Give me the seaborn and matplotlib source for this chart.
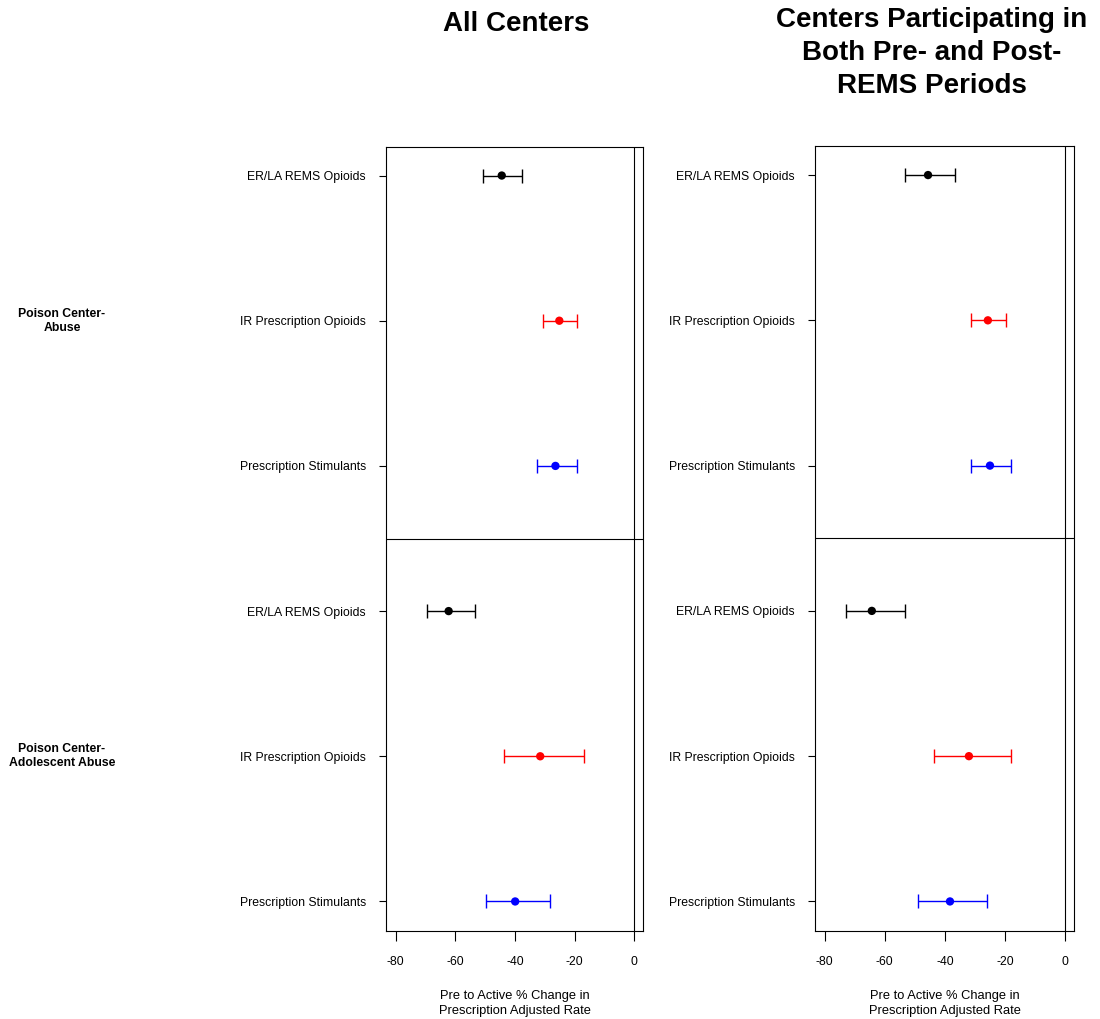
import numpy as np
import pandas as pd
import matplotlib
matplotlib.use("Agg")
import matplotlib.pyplot as plt
import matplotlib.transforms as mtransforms
import seaborn as sns

# Categories
measures = ["ER/LA REMS Opioids", "IR Prescription Opioids", "Prescription Stimulants"]
groups = ["Poison Center-\nAbuse", "Poison Center-\nAdolescent Abuse"]
panel_titles = ["All Centers", "Centers Participating in\nBoth Pre- and Post-\nREMS Periods"]

# Pre to active % change (estimate, lower CI, upper CI); rows: group x measure
all_est = [-44.4, -25.1, -26.4, -62.2, -31.5, -39.9]
all_lo = [-50.6, -30.5, -32.5, -69.6, -43.8, -49.6]
all_hi = [-37.7, -19.1, -19.3, -53.2, -16.8, -28.2]

both_est = [-45.6, -25.7, -25.0, -64.3, -32.0, -38.3]
both_lo = [-53.2, -31.3, -31.3, -72.8, -43.7, -48.9]
both_hi = [-36.5, -19.7, -17.9, -53.1, -17.9, -25.9]

x_ticks = [-80, -60, -40, -20, 0]
measure_colors = {"ER/LA REMS Opioids": "#000000",
                  "IR Prescription Opioids": "#FF0000",
                  "Prescription Stimulants": "#0000FF"}


def build_frame(est, lo, hi):
    rows = []
    for gi, g in enumerate(groups):
        for mi, m in enumerate(measures):
            k = gi * len(measures) + mi
            rows.append({"group": g, "measure": m, "row": k,
                         "est": est[k], "lo": lo[k], "hi": hi[k]})
    return pd.DataFrame(rows)


frames = [build_frame(all_est, all_lo, all_hi),
          build_frame(both_est, both_lo, both_hi)]

sns.set_theme(style="white")
plt.rcParams["font.family"] = ["Liberation Sans", "DejaVu Sans"]
plt.rcParams["text.color"] = "black"
plt.rcParams["axes.labelcolor"] = "black"
plt.rcParams["axes.edgecolor"] = "black"
plt.rcParams["axes.linewidth"] = 0.8

W, H = 1100, 1019
fig = plt.figure(figsize=(W / 100, H / 100), dpi=100)

axes_px = [(386, 146.5, 643, 930.5), (815, 146.0, 1074, 930.5)]
title_pos = [(516, 24), (932, 53)]

for p, (df, (x0, y0, x1, y1)) in enumerate(zip(frames, axes_px)):
    ax = fig.add_axes([x0 / W, 1 - y1 / H, (x1 - x0) / W, (y1 - y0) / H])

    for _, r in df.iterrows():
        c = measure_colors[r["measure"]]
        ax.errorbar(r["est"], r["row"],
                    xerr=[[r["est"] - r["lo"]], [r["hi"] - r["est"]]],
                    fmt="none", ecolor=c, elinewidth=1.0, capsize=4.8,
                    capthick=1.0, zorder=2)
    sns.scatterplot(data=df, x="est", y="row", hue="measure",
                    palette=measure_colors, s=36, edgecolor="none",
                    legend=False, ax=ax, zorder=3)

    # reference line at zero and divider between the two outcome groups
    ax.axvline(0, color="black", lw=0.8, zorder=1)
    ax.axhline(len(measures) - 0.5, color="black", lw=0.8, zorder=1)

    ax.set_xlim(-83.2, 2.95)
    ax.set_ylim(len(df) - 1 + 0.2, -0.2)
    ax.set_xticks(x_ticks)
    ax.set_xticklabels([str(t) for t in x_ticks])
    ax.set_yticks(df["row"].tolist())
    ax.set_yticklabels(df["measure"].tolist())
    ax.tick_params(axis="x", bottom=True, direction="out", length=7.2,
                   width=0.8, color="black", pad=11, labelsize=8.7,
                   labelcolor="black")
    ax.tick_params(axis="y", left=True, direction="out", length=5,
                   width=0.8, color="black", pad=9.5, labelsize=8.8,
                   labelcolor="black")
    ax.set_xlabel("Pre to Active % Change in\nPrescription Adjusted Rate",
                  fontsize=9.3, color="black", labelpad=16, linespacing=1.3)
    ax.set_ylabel("")
    for s in ax.spines.values():
        s.set_visible(True)
        s.set_color("black")
        s.set_linewidth(0.8)

    tx, ty = title_pos[p]
    fig.text(tx / W, 1 - ty / H, panel_titles[p], ha="center", va="center",
             fontsize=20, fontweight="bold", linespacing=1.36, color="black")

    if p == 0:
        tr = mtransforms.blended_transform_factory(fig.transFigure, ax.transData)
        for gi, g in enumerate(groups):
            ax.text(62 / W, gi * len(measures) + 1, g, transform=tr,
                    ha="center", va="center", fontsize=8.8, color="black",
                    fontweight="bold", linespacing=1.2, clip_on=False)

fig.savefig("out.png", dpi=100)
